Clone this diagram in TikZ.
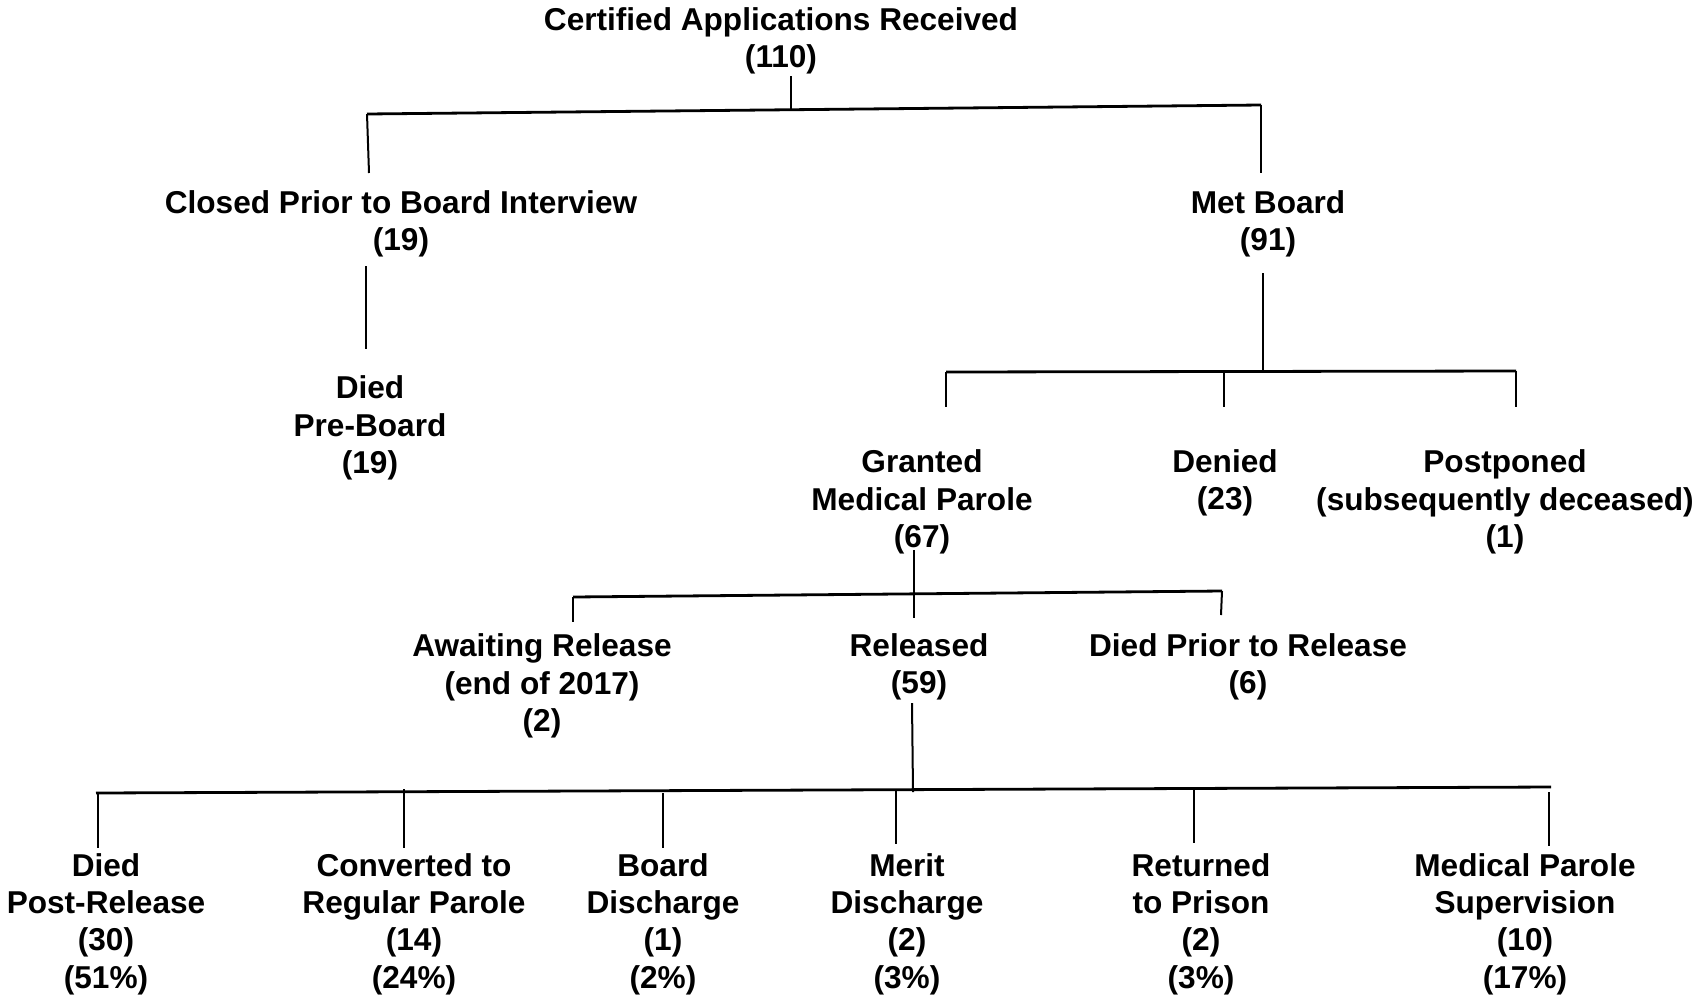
\documentclass[tikz,border=0pt]{standalone}
\usepackage{fontspec}
\setmainfont{Liberation Sans}
\usetikzlibrary{positioning}

\begin{document}
\begin{tikzpicture}[x=0.5pt, y=-0.5pt,
					lbl/.style={align=center, inner sep=0pt, font=\fontsize{15.8}{18.7}\selectfont\bfseries},
					drop/.style={line width=1pt},
					bar/.style={line width=1.4pt}]
					\useasboundingbox (0,0) rectangle (1701,996);
					% levels of the tree
					\node[lbl] (certified) at (781,41) {Certified Applications Received\\(110)};
					\node[lbl] (closed) at (401,224) {Closed Prior to Board Interview\\(19)};
					\node[lbl] (met) at (1268,224) {Met Board\\(91)};
					\node[lbl] (diedpre) at (370,428) {Died\\Pre-Board\\(19)};
					\node[lbl] (granted) at (922,502) {Granted\\Medical Parole\\(67)};
					\node[lbl] (denied) at (1225,483) {Denied\\(23)};
					\node[lbl] (postponed) at (1505,502) {Postponed\\(subsequently deceased)\\(1)};
					\node[lbl] (awaiting) at (542,686) {Awaiting Release\\(end of 2017)\\(2)};
					\node[lbl] (released) at (919,667) {Released\\(59)};
					\node[lbl] (diedprior) at (1248,667) {Died Prior to Release\\(6)};
					\node[lbl] (diedpost) at (106,924) {Died\\Post-Release\\(30)\\(51\%)};
					\node[lbl] (converted) at (414,924) {Converted to\\Regular Parole\\(14)\\(24\%)};
					\node[lbl] (board) at (663,924) {Board\\Discharge\\(1)\\(2\%)};
					\node[lbl] (merit) at (907,924) {Merit\\Discharge\\(2)\\(3\%)};
					\node[lbl] (returned) at (1201,924) {Returned\\to Prison\\(2)\\(3\%)};
					\node[lbl] (supervision) at (1525,924) {Medical Parole\\Supervision\\(10)\\(17\%)};
					
					% connector ends
					\coordinate (certifiedA) at (791,76);
					\coordinate (certifiedB) at (791,110);
					\coordinate (barAL) at (367,114);
					\coordinate (barAR) at (1261,105);
					\coordinate (closedT) at (369,173);
					\coordinate (metT) at (1261,173);
					\coordinate (closedA) at (366,266);
					\coordinate (diedpreT) at (366,349);
					\coordinate (metA) at (1263,273);
					\coordinate (metB) at (1263,372);
					\coordinate (barBL) at (946,372);
					\coordinate (barBM) at (1224,372);
					\coordinate (barBR) at (1516,371);
					\coordinate (grantedT) at (946,407);
					\coordinate (deniedT) at (1224,407);
					\coordinate (postponedT) at (1516,407);
					\coordinate (grantedA) at (914,550);
					\coordinate (releasedT) at (914,618);
					\coordinate (barCL) at (573,597);
					\coordinate (barCR) at (1222,591);
					\coordinate (awaitingT) at (573,622);
					\coordinate (diedpriorT) at (1221,615);
					\coordinate (releasedA) at (912,703);
					\coordinate (releasedB) at (913,792);
					\coordinate (barDL) at (96,793);
					\coordinate (barDR) at (1551,787);
					
					\draw[drop] (certifiedA) -- (certifiedB);
					\draw[bar] (barAL) -- (barAR);
					\draw[drop] (barAL) -- (closedT);
					\draw[drop] (barAR) -- (metT);
					\draw[drop] (closedA) -- (diedpreT);
					\draw[drop] (metA) -- (metB);
					\draw[bar] (barBL) -- (barBR);
					\draw[drop] (barBL) -- (grantedT);
					\draw[drop] (barBM) -- (deniedT);
					\draw[drop] (barBR) -- (postponedT);
					\draw[drop] (grantedA) -- (releasedT);
					\draw[bar] (barCL) -- (barCR);
					\draw[drop] (barCL) -- (awaitingT);
					\draw[drop] (barCR) -- (diedpriorT);
					\draw[drop] (releasedA) -- (releasedB);
					\draw[bar] (barDL) -- (barDR);
					\foreach \x/\ya/\yb/\n in {98/793/848/diedpost, 404/789/848/converted, 663/793/848/board, 896/790/844/merit, 1194/788/843/returned, 1549/792/846/supervision}
						\draw[drop] (\x,\ya) coordinate (\n A) -- (\x,\yb) coordinate (\n T);
				\end{tikzpicture}
\end{document}
